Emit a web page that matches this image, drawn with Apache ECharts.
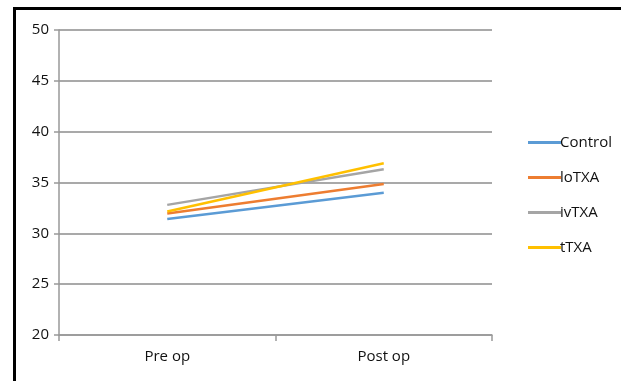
<!DOCTYPE html>
<html>
<head>
<meta charset="utf-8">
<script src="https://cdn.jsdelivr.net/npm/echarts@6/dist/echarts.min.js"></script>
<style>
html,body{margin:0;padding:0;background:#fff;overflow:hidden;}
#chart{position:absolute;left:0;top:0;width:621px;height:381px;}
#frame{position:absolute;left:13px;top:7px;width:700px;height:500px;border:3px solid #000;pointer-events:none;box-sizing:border-box;}
</style>
</head>
<body>
<div id="chart"></div>
<div id="frame"></div>
<script>
const categories = ['Pre op', 'Post op'];
const seriesNames = ['Control', 'loTXA', 'ivTXA', 'tTXA'];
const controlValues = [31.4, 34.0];
const loTXAValues = [31.95, 34.85];
const ivTXAValues = [32.8, 36.3];
const tTXAValues = [32.15, 36.9];
const yTicks = [20, 25, 30, 35, 40, 45, 50];
const colors = ['#5B9BD5', '#ED7D31', '#A5A5A5', '#FFC000'];
const values = [controlValues, loTXAValues, ivTXAValues, tTXAValues];

const chart = echarts.init(document.getElementById('chart'), null, {renderer: 'canvas'});
chart.setOption({
  animation: false,
  backgroundColor: '#fff',
  grid: {left: 59, top: 30, width: 433, height: 305, containLabel: false},
  legend: {
    orient: 'vertical',
    left: 523,
    top: 130,
    itemWidth: 33,
    itemHeight: 3,
    itemGap: 20,
    icon: 'rect',
    textStyle: {fontFamily: 'Open Sans', fontSize: 15, color: '#111', padding: [0, 0, 0, -6]},
    data: seriesNames
  },
  xAxis: {
    type: 'category',
    data: categories,
    boundaryGap: true,
    axisLine: {lineStyle: {color: '#999', width: 1.5}},
    axisTick: {show: true, length: 6, inside: false, lineStyle: {color: '#999', width: 1.5}},
    axisLabel: {fontFamily: 'Open Sans', fontSize: 15, color: '#111', margin: 14}
  },
  yAxis: {
    type: 'value',
    min: yTicks[0],
    max: yTicks[yTicks.length - 1],
    interval: 5,
    axisLine: {show: true, lineStyle: {color: '#999', width: 1.5}},
    axisTick: {show: true, length: 5, lineStyle: {color: '#999', width: 1.5}},
    splitLine: {show: true, lineStyle: {color: '#8c8c8c', width: 1.5}},
    axisLabel: {fontFamily: 'Open Sans', fontSize: 15, color: '#111', margin: 10}
  },
  series: seriesNames.map((n, i) => ({
    name: n,
    type: 'line',
    data: values[i],
    showSymbol: false,
    symbol: 'none',
    lineStyle: {color: colors[i], width: 2.5},
    itemStyle: {color: colors[i]}
  }))
});
</script>
</body>
</html>
